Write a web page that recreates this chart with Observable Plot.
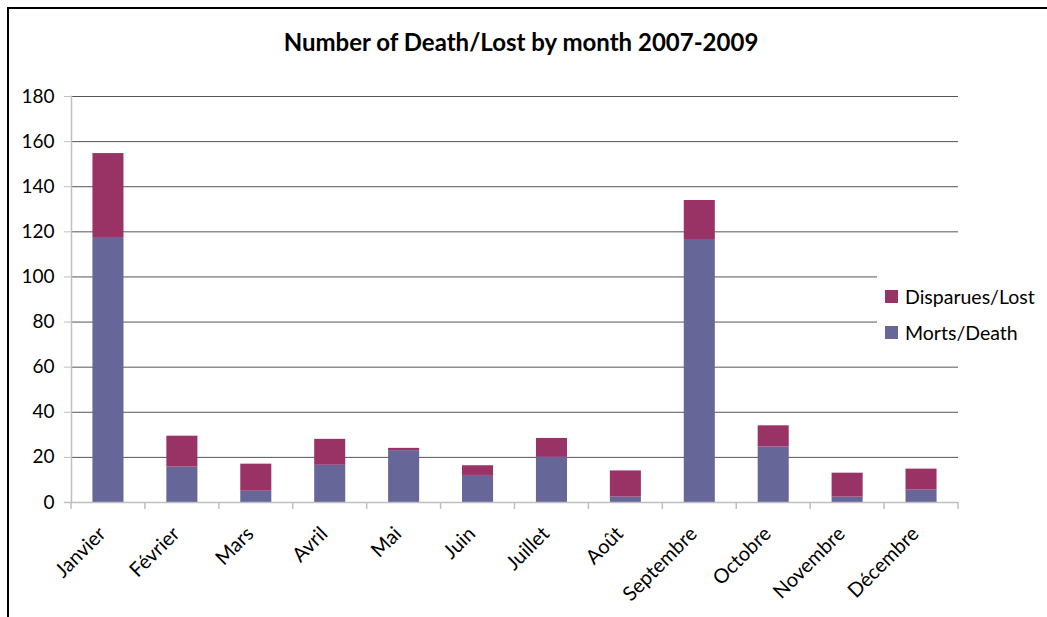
<!DOCTYPE html>
<html>
<head>
<meta charset="utf-8">
<script src="https://cdn.jsdelivr.net/npm/d3@7"></script>
<script src="https://cdn.jsdelivr.net/npm/@observablehq/plot@0.6"></script>
<style>
  html, body { margin: 0; padding: 0; overflow: hidden; background: #fff; }
  #wrap { position: relative; width: 1047px; height: 617px; font-family: Lato, "Open Sans", sans-serif; }
  #frame { position: absolute; left: 7px; top: 7px; width: 1060px; height: 640px; border-left: 2px solid #000; border-top: 2px solid #000; pointer-events: none; }
  #title { position: absolute; left: 0; top: 27px; width: 1042px; text-align: center; font-weight: bold; font-size: 24px; color: #000; }
  #chart { position: absolute; left: 0; top: 0; }
  #legend { position: absolute; left: 877px; top: 238px; width: 170px; height: 122px; background: #fff; }
  .item { position: absolute; left: 8px; display: flex; align-items: center; font-size: 19.5px; color: #000; }
  .sw { width: 13px; height: 13px; margin-right: 7px; }
</style>
</head>
<body>
<div id="wrap">
  <div id="chart"></div>
  <div id="title">Number of Death/Lost by month 2007-2009</div>
  <div id="legend"></div>
  <div id="frame"></div>
</div>
<script>
const months = ["Janvier","Février","Mars","Avril","Mai","Juin","Juillet","Août","Septembre","Octobre","Novembre","Décembre"];
const morts = [117.5, 15.7, 5, 16.5, 23, 12, 20, 2.4, 116.6, 24.6, 2.4, 5.5];
const disparues = [37.2, 13.7, 12, 11.5, 1, 4.3, 8.4, 11.6, 17.3, 9.4, 10.6, 9.3];
const seriesNames = ["Morts/Death", "Disparues/Lost"];
const seriesColors = ["#666699", "#993366"];
const yTicks = [0, 20, 40, 60, 80, 100, 120, 140, 160, 180];

const data = months.flatMap((m, i) => [
  {month: m, series: seriesNames[0], value: morts[i]},
  {month: m, series: seriesNames[1], value: disparues[i]}
]);

const chart = Plot.plot({
  width: 1047,
  height: 617,
  marginLeft: 71,
  marginRight: 89,
  marginTop: 96,
  marginBottom: 115,
  style: {fontFamily: "Lato, 'Open Sans', sans-serif", background: "transparent", color: "#000"},
  x: {domain: months, paddingInner: 0.58, paddingOuter: 0.29, round: false, label: null},
  y: {domain: [0, 180], label: null},
  color: {domain: seriesNames, range: seriesColors},
  marks: [
    Plot.ruleY(yTicks.filter(t => t > 0), {stroke: "#555", strokeWidth: 1}),
    Plot.barY(data, {x: "month", y: "value", fill: "series"}),
    Plot.ruleY([0], {stroke: "#bfbfbf", strokeWidth: 1.5, insetLeft: -7}),
    Plot.frame({anchor: "left", stroke: "#bfbfbf", strokeWidth: 1.5}),
    Plot.axisY({ticks: yTicks, tickSize: 7, tickPadding: 10, fontSize: 19, stroke: "#bfbfbf", fill: "#000", label: null}),
    Plot.axisX({tickRotate: -45, tickSize: 0, tickPadding: 28, dx: -6, fontSize: 20, fill: "#000", label: null})
  ]
});
document.getElementById("chart").appendChild(chart);

// category boundary tick marks (Excel style), placed from the x scale
const xs = chart.scale("x");
const ys = chart.scale("y");
const step = xs.step;
const gap = step - xs.bandwidth;
const svg = d3.select(chart);
const bounds = months.map(m => xs.apply(m) - gap / 2).concat([xs.apply(months[months.length - 1]) + xs.bandwidth + gap / 2]);
const y0 = ys.apply(0);
svg.append("g").selectAll("line").data(bounds).join("line")
  .attr("x1", d => d).attr("x2", d => d)
  .attr("y1", y0).attr("y2", y0 + 7)
  .attr("stroke", "#bfbfbf").attr("stroke-width", 1.5);

// legend
const legend = document.getElementById("legend");
[[1, 59], [0, 95]].forEach(([i, top]) => {
  const el = document.createElement("div");
  el.className = "item";
  el.style.top = (top - 12) + "px";
  el.innerHTML = `<span class="sw" style="background:${seriesColors[i]}"></span><span>${seriesNames[i]}</span>`;
  legend.appendChild(el);
});
</script>
</body>
</html>
